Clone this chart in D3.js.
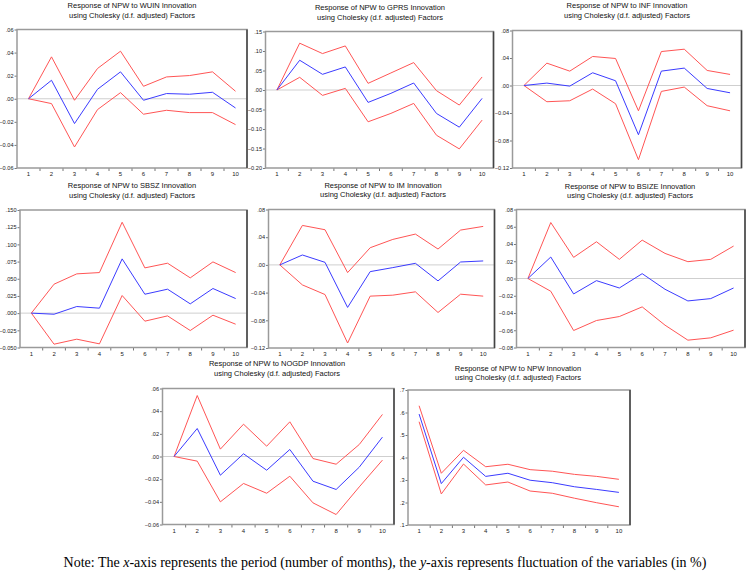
<!DOCTYPE html>
<html><head><meta charset="utf-8">
<script src="https://cdn.jsdelivr.net/npm/d3@7"></script>
<style>
html,body{margin:0;padding:0;background:#fff;}
svg{display:block;}
</style></head>
<body><svg id="c" width="747" height="573"></svg>
<script>
// ---------- DATA ----------
const periods = [1,2,3,4,5,6,7,8,9,10];
const panelNames = ["WUIN","GPRS","INF","SBSZ","IM","BSIZE","NOGDP","NPW"];

const wuinResp  = [0, 0.0160, -0.0215, 0.0082, 0.0233, -0.0013, 0.0045, 0.0039, 0.0056, -0.0080];
const wuinUpper = [0, 0.0363, -0.0013, 0.0262, 0.0412, 0.0108, 0.0189, 0.0201, 0.0233, 0.0065];
const wuinLower = [0, -0.0042, -0.0418, -0.0094, 0.0053, -0.0134, -0.0100, -0.0120, -0.0120, -0.0224];
const wuinTicks = [0.06, 0.04, 0.02, 0, -0.02, -0.04, -0.06];

const gprsResp  = [0, 0.0763, 0.0402, 0.0591, -0.0318, -0.0086, 0.0179, -0.0602, -0.0953, -0.0215];
const gprsUpper = [0, 0.1200, 0.0934, 0.1130, 0.0171, 0.0437, 0.0703, -0.0018, -0.0386, 0.0334];
const gprsLower = [0, 0.0325, -0.0138, 0.0042, -0.0815, -0.0600, -0.0344, -0.1160, -0.1510, -0.0772];
const gprsTicks = [0.15, 0.10, 0.05, 0, -0.05, -0.10, -0.15, -0.20];

const infResp  = [0, 0.0035, -0.0009, 0.0185, 0.0069, -0.0716, 0.0209, 0.0253, -0.0043, -0.0106];
const infUpper = [0, 0.0325, 0.0209, 0.0422, 0.0393, -0.0368, 0.0494, 0.0528, 0.0219, 0.0161];
const infLower = [0, -0.0236, -0.0222, -0.0052, -0.0265, -0.1079, -0.0086, -0.0023, -0.0294, -0.0368];
const infTicks = [0.08, 0.04, 0, -0.04, -0.08, -0.12];

const sbszResp  = [0, -0.0016, 0.0096, 0.0072, 0.0789, 0.0275, 0.0348, 0.0135, 0.0358, 0.0212];
const sbszUpper = [0, 0.0421, 0.0571, 0.0590, 0.1322, 0.0658, 0.0726, 0.0513, 0.0745, 0.0590];
const sbszLower = [0, -0.0452, -0.0379, -0.0447, 0.0256, -0.0117, -0.0040, -0.0253, -0.0030, -0.0161];
const sbszTicks = [0.150, 0.125, 0.100, 0.075, 0.050, 0.025, 0, -0.025, -0.050];

const imResp  = [0, 0.0143, 0.0037, -0.0614, -0.0097, -0.0039, 0.0023, -0.0231, 0.0042, 0.0057];
const imUpper = [0, 0.0570, 0.0508, -0.0111, 0.0248, 0.0368, 0.0445, 0.0229, 0.0503, 0.0556];
const imLower = [0, -0.0289, -0.0428, -0.1128, -0.0451, -0.0437, -0.0389, -0.0687, -0.0423, -0.0451];
const imTicks = [0.08, 0.04, 0, -0.04, -0.08, -0.12];

const bsizeResp  = [0, 0.0249, -0.0179, -0.0025, -0.0110, 0.0056, -0.0125, -0.0260, -0.0233, -0.0110];
const bsizeUpper = [0, 0.0649, 0.0245, 0.0426, 0.0222, 0.0445, 0.0291, 0.0195, 0.0222, 0.0376];
const bsizeLower = [0, -0.0148, -0.0603, -0.0487, -0.0441, -0.0329, -0.0541, -0.0715, -0.0688, -0.0599];
const bsizeTicks = [0.08, 0.06, 0.04, 0.02, 0, -0.02, -0.04, -0.06, -0.08];

const nogdpResp  = [0, 0.0247, -0.0165, 0.0024, -0.0121, 0.0062, -0.0218, -0.0291, -0.0094, 0.0171];
const nogdpUpper = [0, 0.0538, 0.0065, 0.0285, 0.0091, 0.0306, -0.0018, -0.0068, 0.0106, 0.0371];
const nogdpLower = [0, -0.0041, -0.0400, -0.0238, -0.0324, -0.0174, -0.0409, -0.0512, -0.0268, -0.0032];
const nogdpTicks = [0.06, 0.04, 0.02, 0, -0.02, -0.04, -0.06];

const npwResp  = [0.593, 0.284, 0.401, 0.316, 0.330, 0.299, 0.288, 0.270, 0.258, 0.245];
const npwUpper = [0.630, 0.330, 0.432, 0.359, 0.370, 0.346, 0.339, 0.325, 0.316, 0.303];
const npwLower = [0.559, 0.238, 0.371, 0.278, 0.291, 0.251, 0.241, 0.219, 0.199, 0.181];
const npwTicks = [0.7, 0.6, 0.5, 0.4, 0.3, 0.2, 0.1];

const titleLine2 = "using Cholesky (d.f. adjusted) Factors";
const noteText = ["Note: The ", "x", "-axis represents the period (number of months), the ", "y", "-axis represents fluctuation of the variables (in %)"];

// ---------- LAYOUT (positions/styles) ----------
const layout = [
  {x0:17,    x1:247,   y0:29.5,  y1:168,   tx:132, ty:[5,15],       dec:2},
  {x0:265.5, x1:493.5, y0:31.5,  y1:168,   tx:380, ty:[7,17],       dec:2},
  {x0:512.5, x1:741.5, y0:30.5,  y1:168,   tx:627, ty:[5.5,15.5],   dec:2},
  {x0:20,    x1:247,   y0:210,   y1:347.5, tx:132, ty:[185,195],    dec:3},
  {x0:268.5, x1:494.5, y0:209.5, y1:348,   tx:383, ty:[185,194.5],  dec:2},
  {x0:516.5, x1:745,   y0:209.5, y1:347.5, tx:630, ty:[186,195.5],  dec:2},
  {x0:162.5, x1:394,   y0:388.5, y1:524.5, tx:277, ty:[363,373],    dec:2},
  {x0:408,   x1:630,   y0:390,   y1:525,   tx:518, ty:[368,377.5],  dec:1}
];
const series = [
  [wuinResp, wuinUpper, wuinLower, wuinTicks],
  [gprsResp, gprsUpper, gprsLower, gprsTicks],
  [infResp, infUpper, infLower, infTicks],
  [sbszResp, sbszUpper, sbszLower, sbszTicks],
  [imResp, imUpper, imLower, imTicks],
  [bsizeResp, bsizeUpper, bsizeLower, bsizeTicks],
  [nogdpResp, nogdpUpper, nogdpLower, nogdpTicks],
  [npwResp, npwUpper, npwLower, npwTicks]
];

const BLUE = "#3b3bff", RED = "#ff5555", FRAME = "#9a9a9a", ZERO = "#cfcfcf";
const FONT = "'Liberation Sans', Arial, sans-serif";

const svg = d3.select("#c");

panelNames.forEach((name, i) => {
  const L = layout[i];
  const [resp, up, lo, ticks] = series[i];
  const g = svg.append("g");

  const x = d3.scaleBand().domain(periods).range([L.x0, L.x1]);
  const y = d3.scaleLinear().domain([d3.min(ticks), d3.max(ticks)]).range([L.y1, L.y0]);
  const fmt = v => {
    let s = d3.format("." + L.dec + "f")(Math.abs(v) < 1e-9 ? 0 : v);
    return s.replace(/^(-?)0\./, "$1.");
  };

  // title
  g.append("text").attr("x", L.tx).attr("y", L.ty[0]).attr("dy", "0.35em")
    .attr("text-anchor", "middle").style("font", `7.5px ${FONT}`).attr("fill", "#111")
    .text(`Response of NPW to ${name} Innovation`);
  g.append("text").attr("x", L.tx).attr("y", L.ty[1]).attr("dy", "0.35em")
    .attr("text-anchor", "middle").style("font", `7.5px ${FONT}`).attr("fill", "#111")
    .text(titleLine2);

  // zero line
  if (y.domain()[0] < 0 && y.domain()[1] > 0) {
    g.append("line").attr("x1", L.x0).attr("x2", L.x1).attr("y1", y(0)).attr("y2", y(0))
      .attr("stroke", ZERO).attr("stroke-width", 1);
  }

  // y axis
  const ya = d3.axisLeft(y).tickValues(ticks).tickFormat(fmt).tickSize(2.5).tickPadding(1);
  const yg = g.append("g").attr("transform", `translate(${L.x0},0)`).call(ya);
  yg.select(".domain").remove();
  yg.selectAll("line").attr("stroke", "#777");
  yg.selectAll("text").style("font", `5.6px ${FONT}`).attr("fill", "#222");

  // x axis: labels centered, tick marks at band boundaries
  const xa = d3.axisBottom(x).tickSize(0).tickPadding(4);
  const xg = g.append("g").attr("transform", `translate(0,${L.y1})`).call(xa);
  xg.select(".domain").remove();
  xg.selectAll("text").style("font", `6px ${FONT}`).attr("fill", "#222");
  g.selectAll(".xb").data(periods.slice(1)).enter().append("line")
    .attr("x1", d => x(d)).attr("x2", d => x(d))
    .attr("y1", L.y1).attr("y2", L.y1 + 3).attr("stroke", "#777");

  // lines
  const line = d3.line().x((d, k) => x(periods[k]) + x.bandwidth() / 2).y(d => y(d));
  [[up, RED], [lo, RED], [resp, BLUE]].forEach(([arr, col]) => {
    g.append("path").datum(arr).attr("d", line).attr("fill", "none")
      .attr("stroke", col).attr("stroke-width", 1);
  });

  // frame
  g.append("rect").attr("x", L.x0).attr("y", L.y0).attr("width", L.x1 - L.x0).attr("height", L.y1 - L.y0)
    .attr("fill", "none").attr("stroke", FRAME).attr("stroke-width", 1.5);
  g.append("line").attr("x1", L.x1).attr("x2", L.x1).attr("y1", L.y0).attr("y2", L.y1)
    .attr("stroke", "#444").attr("stroke-width", 1.5);
});

// note
const note = svg.append("text").attr("x", 385).attr("y", 567).attr("text-anchor", "middle")
  .style("font", "14px 'Liberation Serif', 'Times New Roman', serif").attr("fill", "#000");
noteText.forEach((t, k) => {
  note.append("tspan").style("font-style", k % 2 === 1 ? "italic" : "normal").text(t);
});
</script>
</body></html>
